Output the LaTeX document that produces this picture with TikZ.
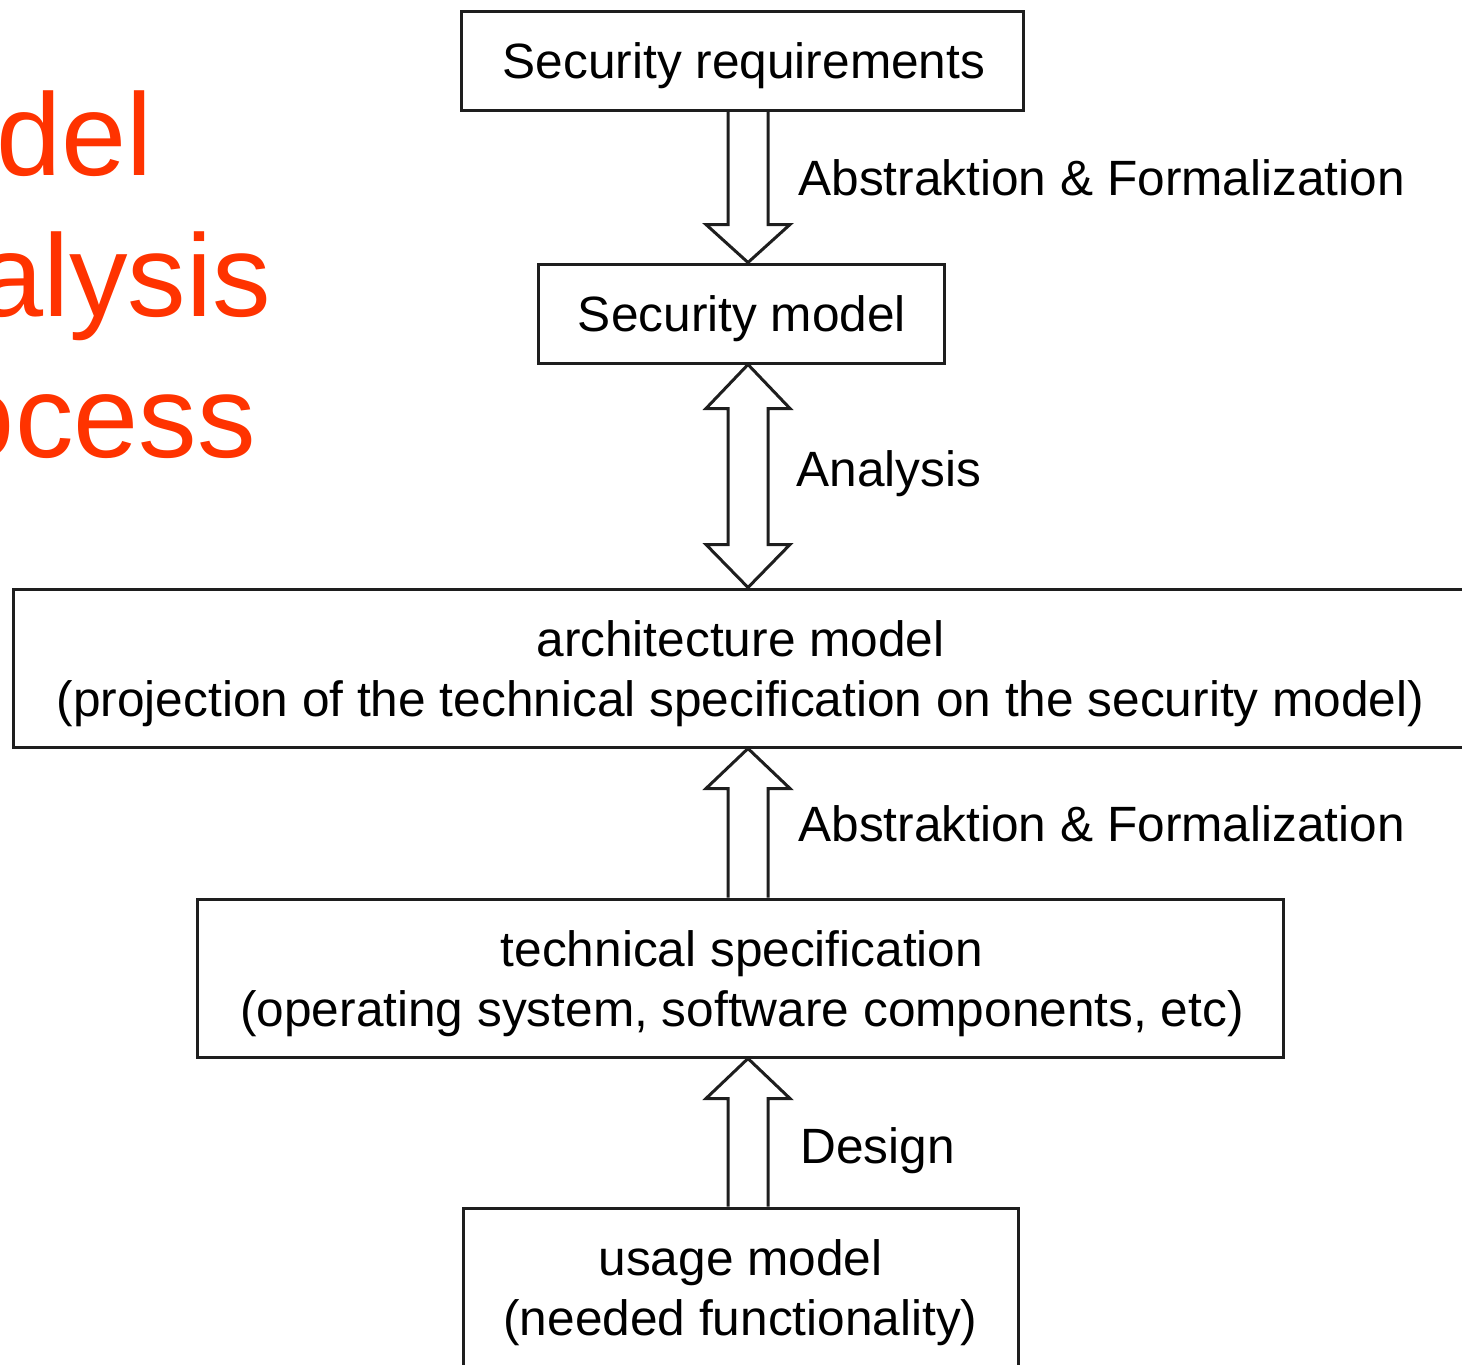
\documentclass[tikz,border=0pt]{standalone}
\usepackage{fontspec}
\setmainfont{Liberation Sans}
\usetikzlibrary{calc}
\definecolor{titleorange}{RGB}{255,51,0}
\definecolor{boxline}{RGB}{30,30,30}

\begin{document}
\begin{tikzpicture}[x=0.5pt,y=-0.5pt,
  box/.style={draw=boxline, line width=1.5pt, inner sep=0pt},
  boxtext/.style={inner sep=0pt, align=center, font=\fontsize{24.8}{30}\selectfont},
  blockarrow/.style={draw=boxline, line width=1.5pt, line join=miter},
  lbl/.style={anchor=base west, inner sep=0pt, font=\fontsize{24.8}{30}\selectfont},
  title/.style={anchor=base east, inner sep=0pt, text=titleorange,
    font=\fontsize{58.5}{70}\selectfont}]

\useasboundingbox (0,0) rectangle (1462,1365);
\clip (0,0) rectangle (1462,1365);

% slide title, running off the left edge
\node[title] (t1) at (153,175) {Model};
\node[title] (t2) at (271,316) {Analysis};
\node[title] (t3) at (256,457) {Process};

% process boxes
\node[box, minimum width=281pt, minimum height=49.5pt] (req) at (742,60.5) {};
\node[box, minimum width=203pt, minimum height=49.5pt] (sm) at (741,313.5) {};
\node[box, minimum width=728.5pt, minimum height=79pt] (arch) at (741.5,668) {};
\node[box, minimum width=543pt, minimum height=79pt] (tech) at (740,978) {};
\node[box, minimum width=277.5pt, minimum height=79pt] (use) at (740.5,1287) {};

% box contents
\node[boxtext] (reqT) at ($(req.center)+(2,5)$) {Security requirements};
\node[boxtext] (smT) at ($(sm.center)+(1,5)$) {Security model};
\node[boxtext] (archT) at ($(arch.center)+(-1,6)$)
  {architecture model\\(projection of the technical specification on the security model)};
\node[boxtext] (techT) at ($(tech.center)+(2,6)$)
  {technical specification\\(operating system, software components, etc)};
\node[boxtext] (useT) at ($(use.center)+(0,6)$)
  {usage model\\(needed functionality)};

% vertical axis of the block arrows
\coordinate (ax) at (748,0);

% requirements -> security model
\draw[blockarrow] ($(req.south -| ax)+(-20,0)$) -- ($(sm.north -| ax)+(-20,-38)$) -- ++(-22,0)
  -- (sm.north -| ax) -- ($(sm.north -| ax)+(42,-38)$) -- ++(-22,0) -- ($(req.south -| ax)+(20,0)$);

% security model <-> architecture model
\draw[blockarrow] (sm.south -| ax) -- ($(sm.south -| ax)+(42,44)$) -- ++(-22,0)
  -- ($(arch.north -| ax)+(20,-43)$) -- ++(22,0) -- (arch.north -| ax)
  -- ($(arch.north -| ax)+(-42,-43)$) -- ++(22,0) -- ($(sm.south -| ax)+(-20,44)$) -- ++(-22,0)
  -- cycle;

% technical specification -> architecture model
\draw[blockarrow] ($(tech.north -| ax)+(-20,0)$) -- ($(arch.south -| ax)+(-20,40)$) -- ++(-22,0)
  -- (arch.south -| ax) -- ($(arch.south -| ax)+(42,40)$) -- ++(-22,0) -- ($(tech.north -| ax)+(20,0)$);

% usage model -> technical specification
\draw[blockarrow] ($(use.north -| ax)+(-20,0)$) -- ($(tech.south -| ax)+(-20,40)$) -- ++(-22,0)
  -- (tech.south -| ax) -- ($(tech.south -| ax)+(42,40)$) -- ++(-22,0) -- ($(use.north -| ax)+(20,0)$);

% arrow labels
\node[lbl] (l1) at (798,195) {Abstraktion \& Formalization};
\node[lbl] (l2) at (796,486) {Analysis};
\node[lbl] (l3) at (798,841) {Abstraktion \& Formalization};
\node[lbl] (l4) at (800,1163) {Design};
\end{tikzpicture}
\end{document}
